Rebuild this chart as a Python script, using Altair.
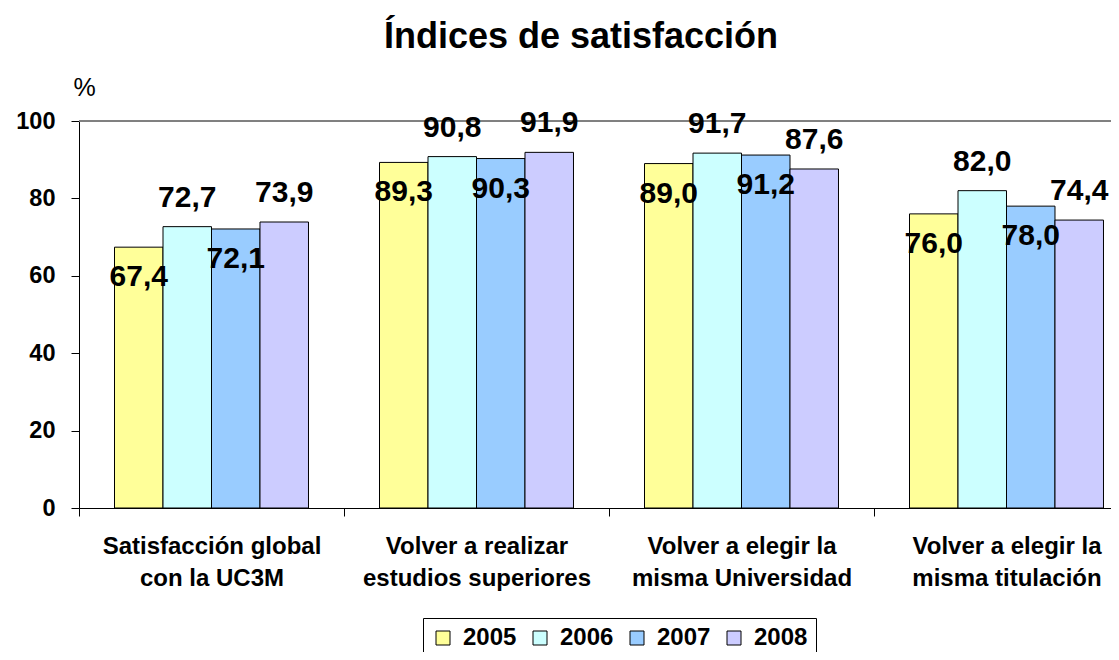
import altair as alt
import pandas as pd

categories = [
    "Satisfacción global|con la UC3M",
    "Volver a realizar|estudios superiores",
    "Volver a elegir la|misma Universidad",
    "Volver a elegir la|misma titulación",
]
years = ["2005", "2006", "2007", "2008"]
v2005 = [67.4, 89.3, 89.0, 76.0]
v2006 = [72.7, 90.8, 91.7, 82.0]
v2007 = [72.1, 90.3, 91.2, 78.0]
v2008 = [73.9, 91.9, 87.6, 74.4]
colors = ["#FFFF99", "#CCFFFF", "#99CCFF", "#CCCCFF"]
y_ticks = [0, 20, 40, 60, 80, 100]

rows = []
for yr, vals in zip(years, [v2005, v2006, v2007, v2008]):
    for c, v in zip(categories, vals):
        rows.append({"cat": c, "year": yr, "value": v,
                     "label": f"{v:.1f}".replace(".", ",")})
df = pd.DataFrame(rows)

FONT = "Liberation Sans"

x = alt.X(
    "cat:N", sort=categories,
    scale=alt.Scale(range=[0, 1060], paddingInner=0, paddingOuter=0),
    axis=alt.Axis(
        title=None, labelAngle=0, tickBand="extent",
        labelExpr="split(datum.label, '|')",
        labelFont=FONT, labelFontSize=24, labelFontWeight="bold",
        labelColor="black", labelLineHeight=32, labelPadding=18,
        labelLimit=500, tickSize=8, tickColor="black", domainColor="black",
        grid=False,
    ),
)
xo = alt.XOffset("year:N", sort=years,
                 scale=alt.Scale(paddingInner=0, paddingOuter=0.732))
y = alt.Y(
    "value:Q", scale=alt.Scale(domain=[0, 100]),
    axis=alt.Axis(
        values=y_ticks, title="%", titleAngle=0, titleX=5, titleY=-34,
        titleAlign="center", titleBaseline="middle", titleFontSize=25,
        titleFontWeight="normal", titleFont=FONT, titleColor="black",
        labelFont=FONT, labelFontSize=23.5, labelFontWeight="bold",
        labelColor="black", labelPadding=16, tickSize=8, tickColor="black",
        domainColor="black", grid=False,
    ),
)
color = alt.Color(
    "year:N", sort=years, scale=alt.Scale(domain=years, range=colors),
    legend=alt.Legend(
        title=None, orient="none", legendX=344, legendY=497,
        direction="horizontal", symbolType="square", symbolSize=196,
        symbolStrokeColor="black", symbolStrokeWidth=1,
        labelFont=FONT, labelFontSize=24, labelFontWeight="bold",
        labelColor="black", strokeColor="black", fillColor="white",
        padding=8, labelOffset=8, columnPadding=11,
    ),
)

base = alt.Chart(df)

top_rule = base.mark_rule(color="#808080", strokeWidth=1).encode(y=alt.datum(100))

bars = base.mark_bar(stroke="black", strokeWidth=1).encode(x=x, xOffset=xo, y=y, color=color)

text_in = base.transform_filter(
    alt.FieldOneOfPredicate(field="year", oneOf=[years[0], years[2]])
).mark_text(dy=30, fontSize=30, fontWeight="bold", font=FONT, color="black",
            baseline="middle").encode(x=x, xOffset=xo, y=y, text="label:N")

text_out = base.transform_filter(
    alt.FieldOneOfPredicate(field="year", oneOf=[years[1], years[3]])
).mark_text(dy=-29, fontSize=30, fontWeight="bold", font=FONT, color="black",
            baseline="middle").encode(x=x, xOffset=xo, y=y, text="label:N")

chart = alt.layer(top_rule, bars, text_in, text_out).properties(
    width=1032, height=387,
    title=alt.Title("Índices de satisfacción", fontSize=36, font=FONT,
                    fontWeight="bold", color="black", anchor="middle",
                    frame="group", offset=27, baseline="alphabetic", dx=-14,
                    dy=36),
    autosize=alt.AutoSizeParams(type="none"),
    padding={"left": 71, "top": 113, "right": 0, "bottom": 144},
).configure_view(stroke=None)

chart.save("out.html", embed_options={"renderer": "svg", "actions": False})
